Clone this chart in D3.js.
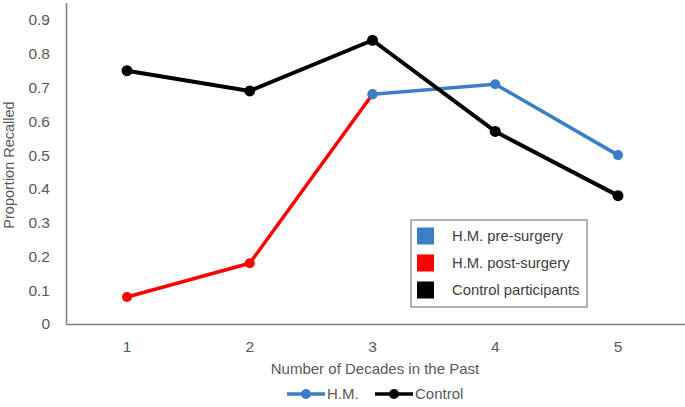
<!DOCTYPE html>
<html>
<head>
<meta charset="utf-8">
<script src="https://cdn.jsdelivr.net/npm/d3@7"></script>
<style>
  body { margin: 0; background: #fff; }
  text { font-family: "Liberation Sans", Arial, sans-serif; }
</style>
</head>
<body>
<svg width="685" height="407"></svg>
<script>
const decades = [1, 2, 3, 4, 5]
const yTicks = [0, 0.1, 0.2, 0.3, 0.4, 0.5, 0.6, 0.7, 0.8, 0.9]
// H.M. series split into pre- and post-surgery segments
const hmPre = [{ d: 3, v: 0.68 }, { d: 4, v: 0.71 }, { d: 5, v: 0.50 }]
const hmPost = [{ d: 1, v: 0.08 }, { d: 2, v: 0.18 }, { d: 3, v: 0.68 }]
const control = [{ d: 1, v: 0.75 }, { d: 2, v: 0.69 }, { d: 3, v: 0.84 }, { d: 4, v: 0.57 }, { d: 5, v: 0.38 }]
const boxLegend = [
  { label: 'H.M. pre-surgery', color: '#3a7fc6' },
  { label: 'H.M. post-surgery', color: '#ff0000' },
  { label: 'Control participants', color: '#000000' }
]

const svg = d3.select('svg')
const axisColor = '#7f7f7f'
const textColor = '#595959'

const x = d3.scalePoint()
  .domain(decades)
  .range([127, 618])

const y = d3.scaleLinear()
  .domain([0, 0.9])
  .range([324, 20])

// axis lines
svg.append('line')
  .attr('x1', 66.5).attr('x2', 66.5)
  .attr('y1', 3).attr('y2', y(0))
  .attr('stroke', axisColor).attr('stroke-width', 1.5)
svg.append('line')
  .attr('x1', 66).attr('x2', 685)
  .attr('y1', y(0) + 0.5).attr('y2', y(0) + 0.5)
  .attr('stroke', axisColor).attr('stroke-width', 1.5)

// tick labels
svg.append('g').selectAll('text')
  .data(yTicks)
  .enter().append('text')
  .attr('x', 50)
  .attr('y', d => y(d))
  .attr('dy', '0.35em')
  .attr('text-anchor', 'end')
  .attr('fill', textColor)
  .style('font-size', '15.5px')
  .text(d => d === 0 ? '0' : d3.format('.1f')(d))

svg.append('g').selectAll('text')
  .data(decades)
  .enter().append('text')
  .attr('x', d => x(d))
  .attr('y', 347)
  .attr('dy', '0.35em')
  .attr('text-anchor', 'middle')
  .attr('fill', textColor)
  .style('font-size', '15.5px')
  .text(d => d)

// axis titles
svg.append('text')
  .attr('x', 375)
  .attr('y', 369)
  .attr('dy', '0.35em')
  .attr('text-anchor', 'middle')
  .attr('fill', textColor)
  .style('font-size', '15px')
  .text('Number of Decades in the Past')

svg.append('text')
  .attr('transform', 'translate(9,165) rotate(-90)')
  .attr('dy', '0.35em')
  .attr('text-anchor', 'middle')
  .attr('fill', textColor)
  .style('font-size', '14.5px')
  .text('Proportion Recalled')

// series
const line = d3.line().x(d => x(d.d)).y(d => y(d.v))

function drawSeries (data, color, r, w) {
  const g = svg.append('g')
  g.append('path')
    .datum(data)
    .attr('d', line)
    .attr('fill', 'none')
    .attr('stroke', color)
    .attr('stroke-width', w)
    .attr('stroke-linejoin', 'round')
  g.selectAll('circle')
    .data(data)
    .enter().append('circle')
    .attr('cx', d => x(d.d))
    .attr('cy', d => y(d.v))
    .attr('r', r)
    .attr('fill', color)
}

drawSeries(hmPost, '#ff0000', 5, 3.5)
drawSeries(hmPre, '#3a7fc6', 5, 3.5)
drawSeries(control, '#000000', 5.5, 4)

// boxed legend
const lg = svg.append('g').attr('transform', 'translate(411,220)')
lg.append('rect')
  .attr('width', 176).attr('height', 87)
  .attr('fill', '#fff')
  .attr('stroke', '#666').attr('stroke-width', 1)
const rows = lg.selectAll('g')
  .data(boxLegend)
  .enter().append('g')
  .attr('transform', (d, i) => `translate(0,${16 + i * 27})`)
rows.append('rect')
  .attr('x', 6).attr('y', -8.5)
  .attr('width', 17).attr('height', 17)
  .attr('fill', d => d.color)
rows.append('text')
  .attr('x', 41)
  .attr('dy', '0.35em')
  .attr('fill', '#404040')
  .style('font-size', '14.8px')
  .text(d => d.label)

// bottom legend
const bottomLegend = [
  { label: 'H.M.', color: '#3a7fc6', x: 287 },
  { label: 'Control', color: '#000000', x: 375 }
]
const bl = svg.append('g').selectAll('g')
  .data(bottomLegend)
  .enter().append('g')
  .attr('transform', d => `translate(${d.x},394)`)
bl.append('line')
  .attr('x1', 0).attr('x2', 38)
  .attr('stroke', d => d.color).attr('stroke-width', 3.5)
bl.append('circle')
  .attr('cx', 19).attr('r', 5)
  .attr('fill', d => d.color)
bl.append('text')
  .attr('x', 40)
  .attr('dy', '0.35em')
  .attr('fill', textColor)
  .style('font-size', '15px')
  .text(d => d.label)
</script>
</body>
</html>
